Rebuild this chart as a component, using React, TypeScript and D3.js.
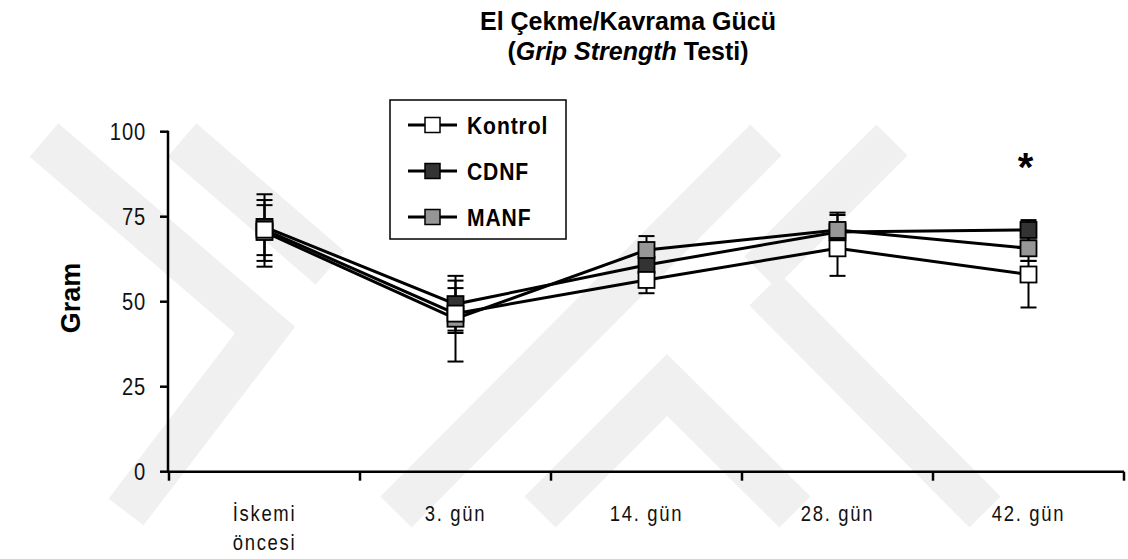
import React from "react";
import * as d3 from "d3";

const categories = ["İskemi öncesi", "3. gün", "14. gün", "28. gün", "42. gün"];
const categoryLines = [["İskemi", "öncesi"], ["3. gün"], ["14. gün"], ["28. gün"], ["42. gün"]];
const seriesNames = ["Kontrol", "CDNF", "MANF"];

const kontrol = [71.2, 46.5, 56.4, 65.7, 58.0];
const cdnf = [72.0, 49.3, 60.8, 70.5, 71.1];
const manf = [70.5, 45.0, 65.2, 71.1, 65.7];

const kontrolHi = [81.6, 57.6, 59.5, 69.0, 62.0];
const kontrolLo = [60.3, 32.4, 52.5, 57.6, 48.3];
const cdnfHi = [79.9, 56.2, 64.0, 75.5, 74.0];
const cdnfLo = [63.7, 41.5, 57.5, 66.5, 68.0];
const manfHi = [78.4, 54.0, 69.3, 76.2, 69.0];
const manfLo = [62.0, 40.8, 61.5, 66.0, 62.0];

const yTicks = [0, 25, 50, 75, 100];
const significance = ["", "", "", "", "*"];

const W = 1128;
const H = 559;
const FONT = "'Liberation Sans', Arial, Helvetica, sans-serif";

// watermark stripes (decorative background)
const watermark: [number, number][][] = [
  [[44, 140], [265, 330], [126, 512]],
  [[182, 140], [330, 268]],
  [[396, 512], [766, 140]],
  [[540, 512], [667, 385], [795, 512]],
  [[765, 290], [985, 512]],
  [[892, 140], [760, 272]],
];

export default function App() {
  const x = d3.scaleBand<string>().domain(categories).range([169, 1124]).padding(0);
  const cx = (i: number) => (x(categories[i]) as number) + x.bandwidth() / 2;
  const y = d3.scaleLinear().domain([0, 100]).range([471.7, 131.7]);

  const series = [
    { name: "CDNF", vals: cdnf, hi: cdnfHi, lo: cdnfLo, fill: "#333333" },
    { name: "MANF", vals: manf, hi: manfHi, lo: manfLo, fill: "#969696" },
    { name: "Kontrol", vals: kontrol, hi: kontrolHi, lo: kontrolLo, fill: "#ffffff" },
  ];
  const legendFill: Record<string, string> = { Kontrol: "#ffffff", CDNF: "#333333", MANF: "#969696" };

  const line = d3
    .line<number>()
    .x((_, i) => cx(i))
    .y((v) => y(v));

  const sq = 16;
  const cap = 16;
  const axisY = y(0);
  const axisX = 168;
  const bounds = d3.range(categories.length + 1).map((i) => 169 + i * x.bandwidth());

  return (
    <svg
      width={W}
      height={H}
      style={{ position: "fixed", left: 0, top: 0, background: "#fff" }}
      fontFamily={FONT}
    >
      <rect x={0} y={0} width={W} height={H} fill="#fff" />
      <g stroke="#f0f0f0" strokeWidth={44} fill="none" strokeLinejoin="miter">
        {watermark.map((pts, i) => (
          <polyline key={i} points={pts.map((p) => p.join(",")).join(" ")} />
        ))}
      </g>

      {/* title */}
      <text x={628} y={30} textAnchor="middle" fontSize={25} fontWeight="bold">
        El Çekme/Kavrama Gücü
      </text>
      <text x={628} y={60} textAnchor="middle" fontSize={25} fontWeight="bold">
        (<tspan fontStyle="italic">Grip Strength</tspan> Testi)
      </text>

      {/* y axis */}
      <line x1={axisX} x2={axisX} y1={y(100) - 1} y2={axisY + 1} stroke="#000" strokeWidth={2.5} />
      {yTicks.map((t) => (
        <g key={t}>
          <line x1={axisX - 8} x2={axisX} y1={y(t)} y2={y(t)} stroke="#000" strokeWidth={2.5} />
          <text
            transform={`translate(146,${y(t) + 8.5}) scale(0.84,1)`}
            textAnchor="end"
            fontSize={24}
            letterSpacing={1}
            fill="#111"
          >
            {t}
          </text>
        </g>
      ))}
      <text
        transform={`translate(${80},${298}) rotate(-90)`}
        textAnchor="middle"
        fontSize={27}
        fontWeight="bold"
      >
        Gram
      </text>

      {/* x axis */}
      <line x1={axisX - 1} x2={1124} y1={axisY} y2={axisY} stroke="#000" strokeWidth={2.5} />
      {bounds.map((b, i) => (
        <line key={i} x1={b} x2={b} y1={axisY} y2={axisY + 9} stroke="#000" strokeWidth={2.5} />
      ))}
      {categoryLines.map((lines, i) => (
        <text
          key={i}
          transform={`translate(${cx(i)},521) scale(0.84,1)`}
          textAnchor="middle"
          fontSize={22}
          letterSpacing={2}
          fill="#111"
        >
          {lines.map((l, j) => (
            <tspan key={j} x={0} dy={j === 0 ? 0 : 29}>
              {l}
            </tspan>
          ))}
        </text>
      ))}

      {/* error bars */}
      {series.map((s) =>
        s.vals.map((v, i) => (
          <g key={s.name + i} stroke="#000" strokeWidth={2}>
            <line x1={cx(i)} x2={cx(i)} y1={y(s.hi[i])} y2={y(s.lo[i])} />
            <line x1={cx(i) - cap / 2} x2={cx(i) + cap / 2} y1={y(s.hi[i])} y2={y(s.hi[i])} />
            <line x1={cx(i) - cap / 2} x2={cx(i) + cap / 2} y1={y(s.lo[i])} y2={y(s.lo[i])} />
          </g>
        ))
      )}

      {/* lines */}
      {series.map((s) => (
        <path key={s.name} d={line(s.vals) as string} fill="none" stroke="#000" strokeWidth={3} />
      ))}

      {/* markers */}
      {series.map((s) =>
        s.vals.map((v, i) => (
          <rect
            key={s.name + "m" + i}
            x={cx(i) - sq / 2}
            y={y(v) - sq / 2}
            width={sq}
            height={sq}
            fill={s.fill}
            stroke="#000"
            strokeWidth={1.8}
          />
        ))
      )}

      {/* significance */}
      {significance.map((s, i) =>
        s ? (
          <text key={i} x={cx(i) - 3} y={y(88) + 8} textAnchor="middle" fontSize={40} fontWeight="bold">
            {s}
          </text>
        ) : null
      )}

      {/* legend */}
      <rect x={390} y={100} width={176} height={139} fill="#fff" stroke="#000" strokeWidth={1.5} />
      {seriesNames.map((n, i) => {
        const ly = 125 + i * 46;
        return (
          <g key={n}>
            <line x1={408} x2={457} y1={ly} y2={ly} stroke="#000" strokeWidth={3} />
            <rect x={425} y={ly - 7.5} width={15} height={15} fill={legendFill[n]} stroke="#000" strokeWidth={1.5} />
            <text
              transform={`translate(467,${ly + 8.5}) scale(0.88,1)`}
              fontSize={24}
              fontWeight="bold"
              letterSpacing={1}
            >
              {n}
            </text>
          </g>
        );
      })}
    </svg>
  );
}
